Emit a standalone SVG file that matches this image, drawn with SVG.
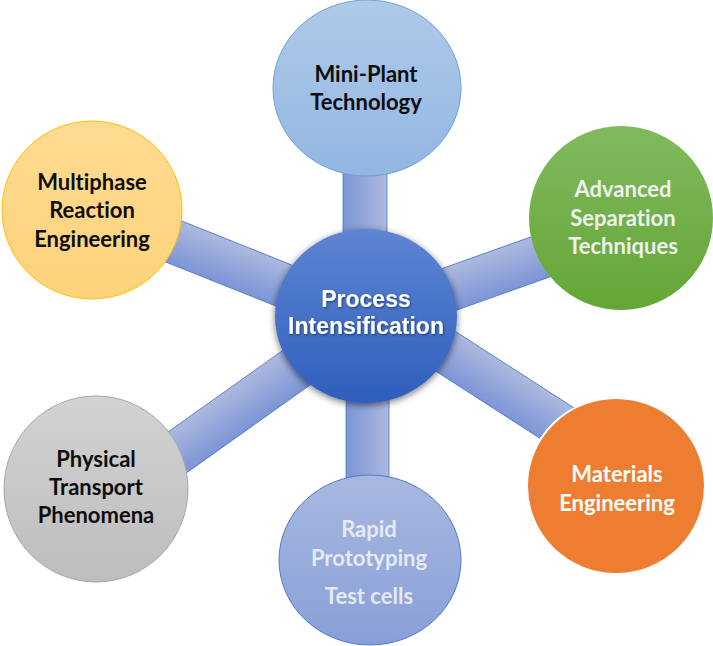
<svg xmlns="http://www.w3.org/2000/svg" width="713" height="646" viewBox="0 0 713 646">
<defs>
  <linearGradient id="barGrad" x1="0" y1="0" x2="0" y2="1">
    <stop offset="0" stop-color="#adb9df"/>
    <stop offset="1" stop-color="#7c95d5"/>
  </linearGradient>
  <linearGradient id="gTop" x1="0" y1="0" x2="0" y2="1">
    <stop offset="0" stop-color="#afcae8"/>
    <stop offset="1" stop-color="#92b6e2"/>
  </linearGradient>
  <linearGradient id="gGreen" x1="0" y1="0" x2="0" y2="1">
    <stop offset="0" stop-color="#80ba5e"/>
    <stop offset="1" stop-color="#64a637"/>
  </linearGradient>
  <linearGradient id="gYellow" x1="0" y1="0" x2="0" y2="1">
    <stop offset="0" stop-color="#fedb92"/>
    <stop offset="1" stop-color="#fdd27a"/>
  </linearGradient>
  <linearGradient id="gGray" x1="0" y1="0" x2="0" y2="1">
    <stop offset="0" stop-color="#d2d2d2"/>
    <stop offset="1" stop-color="#bdbdbd"/>
  </linearGradient>
  <linearGradient id="gBottom" x1="0" y1="0" x2="0" y2="1">
    <stop offset="0" stop-color="#a8b8e0"/>
    <stop offset="1" stop-color="#889fd7"/>
  </linearGradient>
  <linearGradient id="gHub" x1="0" y1="0" x2="0" y2="1">
    <stop offset="0" stop-color="#5d85d2"/>
    <stop offset="1" stop-color="#2f5ebd"/>
  </linearGradient>
  <filter id="hubShadow" x="-20%" y="-20%" width="140%" height="140%">
    <feDropShadow dx="0" dy="2" stdDeviation="3.5" flood-color="#000" flood-opacity="0.55"/>
  </filter>
  <filter id="txtShadow" x="-10%" y="-30%" width="120%" height="160%">
    <feDropShadow dx="1" dy="1.2" stdDeviation="0.8" flood-color="#000" flood-opacity="0.45"/>
  </filter>
</defs>
<style>
  .bar { fill: url(#barGrad); stroke: #4a76c8; stroke-width: 0.8; }
  .lbl { font-family: Lato, "Open Sans", "Liberation Sans", sans-serif; font-weight: bold; font-size: 22px; text-anchor: middle; font-variant-ligatures: none; }
  .dark { fill: #0d0d0d; }
  .hubtxt { font-family: "Liberation Sans", Arial, sans-serif; font-weight: bold; font-size: 23px; text-anchor: middle; fill: #ffffff; }
</style>
<rect width="713" height="646" fill="#ffffff"/>

<g id="connectors">
  <g transform="translate(365,160) rotate(90)"><rect x="0" y="-22" width="160" height="44" class="bar"/></g>
  <g transform="translate(367.5,316) rotate(90)"><rect x="0" y="-21.5" width="170" height="43" class="bar"/></g>
  <g transform="translate(120,220) rotate(21.8)"><rect x="0" y="-22" width="265" height="44" class="bar"/></g>
  <g transform="translate(366,319) rotate(-19.6)"><rect x="0" y="-22" width="255" height="44" class="bar"/></g>
  <g transform="translate(366,300) rotate(32.8)"><rect x="0" y="-22" width="270" height="44" class="bar"/></g>
  <g transform="translate(130,486) rotate(-35.4)"><rect x="0" y="-22" width="290" height="44" class="bar"/></g>
</g>

<g id="node-miniplant">
  <ellipse cx="367" cy="88" rx="94" ry="88" fill="url(#gTop)" stroke="#6aa2d8" stroke-width="1"/>
  <text class="lbl dark" x="366" y="82">Mini-Plant</text>
  <text class="lbl dark" x="366" y="110">Technology</text>
</g>

<g id="node-separation">
  <ellipse cx="621" cy="218" rx="92" ry="92" fill="url(#gGreen)"/>
  <text class="lbl" fill="#f0f0f0" x="623" y="197">Advanced</text>
  <text class="lbl" fill="#f0f0f0" x="623" y="226">Separation</text>
  <text class="lbl" fill="#f0f0f0" x="623" y="254">Techniques</text>
</g>

<g id="node-multiphase">
  <ellipse cx="92" cy="210" rx="90" ry="89" fill="url(#gYellow)" stroke="#ffc000" stroke-width="1"/>
  <text class="lbl dark" x="92" y="190">Multiphase</text>
  <text class="lbl dark" x="92" y="218">Reaction</text>
  <text class="lbl dark" x="92" y="247">Engineering</text>
</g>

<g id="node-materials">
  <ellipse cx="616" cy="486" rx="89" ry="88" fill="#ed7d31" stroke="#ffffff" stroke-width="2"/>
  <text class="lbl" fill="#ffffff" x="617" y="482">Materials</text>
  <text class="lbl" fill="#ffffff" x="617" y="511">Engineering</text>
</g>

<g id="node-physical">
  <ellipse cx="96" cy="489" rx="92" ry="93" fill="url(#gGray)" stroke="#a8a8a8" stroke-width="1"/>
  <text class="lbl dark" x="96" y="467">Physical</text>
  <text class="lbl dark" x="96" y="495">Transport</text>
  <text class="lbl dark" x="96" y="523">Phenomena</text>
</g>

<g id="node-rapid">
  <ellipse cx="370" cy="560" rx="91" ry="85" fill="url(#gBottom)" stroke="#4f7bca" stroke-width="1"/>
  <text class="lbl" fill="#e6e9f2" x="369" y="537">Rapid</text>
  <text class="lbl" fill="#e6e9f2" x="369" y="566">Prototyping</text>
  <text class="lbl" fill="#e6e9f2" x="369" y="604">Test cells</text>
</g>

<g id="node-hub">
  <ellipse cx="366" cy="316" rx="91" ry="87" fill="url(#gHub)" filter="url(#hubShadow)"/>
  <g filter="url(#txtShadow)">
    <text class="hubtxt" x="366" y="307">Process</text>
    <text class="hubtxt" x="366" y="334">Intensification</text>
  </g>
</g>
</svg>
